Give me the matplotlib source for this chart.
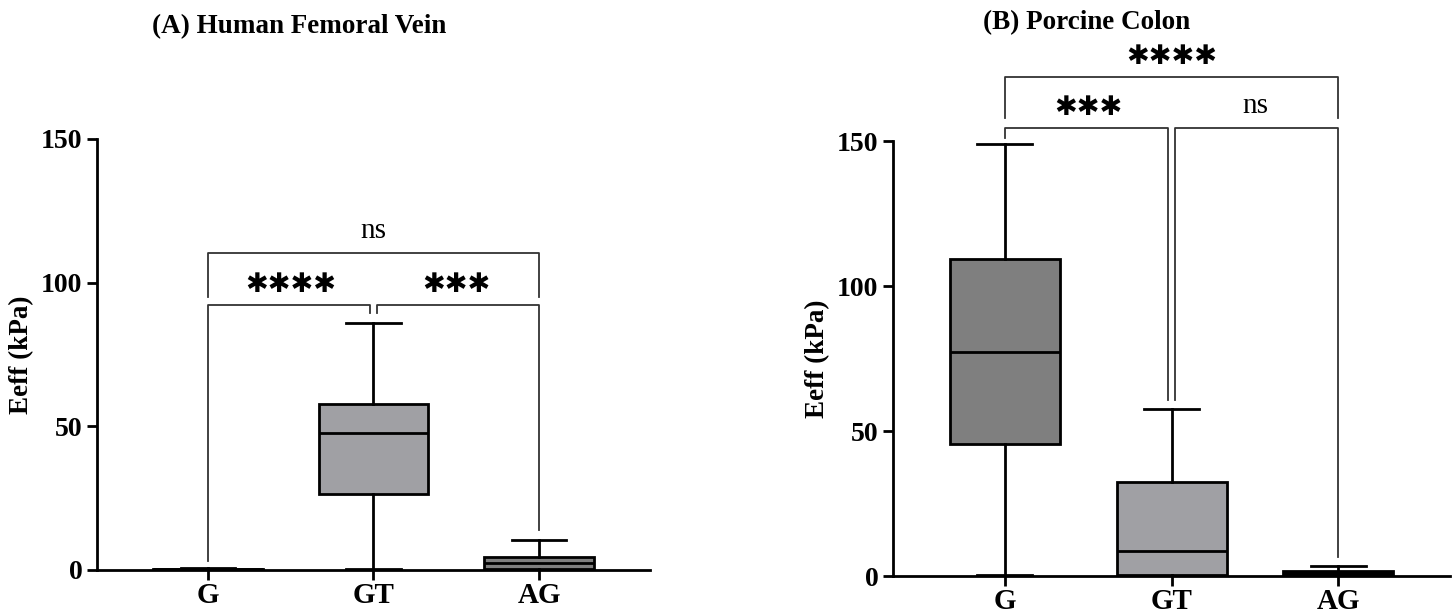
import matplotlib
matplotlib.use("Agg")
import matplotlib.pyplot as plt

groups = ["G", "GT", "AG"]

# box stats (kPa): whislo, q1, med, q3, whishi
vein_lo = [0.0, 0.3, 0.0]
vein_q1 = [0.1, 26.5, 0.4]
vein_med = [0.3, 47.7, 2.5]
vein_q3 = [0.5, 57.8, 4.6]
vein_hi = [0.6, 86.0, 10.5]

colon_lo = [0.3, 0.0, 0.0]
colon_q1 = [45.5, 0.5, 0.3]
colon_med = [77.4, 8.5, 1.0]
colon_q3 = [109.3, 32.3, 1.8]
colon_hi = [149.0, 57.5, 3.6]

vein_colors = ["#9d9da1", "#a0a0a4", "#7f7f7f"]
colon_colors = ["#7f7f7f", "#a0a0a4", "#101010"]

# significance brackets: (i, j, height, left drop, right drop, label)
vein_sig = [(0, 1, 92.2, 3.0, 89.5, "****"),
            (1, 2, 92.2, 89.5, 14.0, "***"),
            (0, 2, 110.3, 95.0, 95.0, "ns")]
colon_sig = [(0, 1, 154.5, 151.0, 60.7, "***"),
             (1, 2, 154.5, 60.7, 6.5, "ns"),
             (0, 2, 172.0, 158.0, 158.0, "****")]

serif = "Liberation Serif"


def make_stats(lo, q1, med, q3, hi):
    return [dict(whislo=lo[k], q1=q1[k], med=med[k], q3=q3[k], whishi=hi[k], fliers=[])
            for k in range(len(lo))]


def draw_panel(ax, stats, colors, sig):
    bp = ax.bxp(stats, positions=range(len(groups)), widths=0.66, patch_artist=True,
                showfliers=False,
                boxprops=dict(linewidth=2, edgecolor="black"),
                medianprops=dict(color="black", linewidth=2),
                whiskerprops=dict(linewidth=2, color="black"),
                capprops=dict(linewidth=2, color="black"), capwidths=0.33)
    for patch, c in zip(bp["boxes"], colors):
        patch.set_facecolor(c)
    ax.set_xlim(-0.67, 2.67)
    ax.set_ylim(0, 150)
    ax.set_yticks([0, 50, 100, 150])
    ax.set_xticks(range(len(groups)))
    ax.set_xticklabels(groups)
    for s in ["top", "right"]:
        ax.spines[s].set_visible(False)
    ax.spines["left"].set_linewidth(2)
    ax.spines["bottom"].set_linewidth(2)
    ax.tick_params(width=2, length=7, direction="out")
    ax.tick_params(axis="x", pad=1.5)
    for lab in ax.get_yticklabels():
        lab.set_fontfamily(serif)
        lab.set_fontweight("bold")
        lab.set_fontsize(20)
    for lab in ax.get_xticklabels():
        lab.set_fontfamily(serif)
        lab.set_fontweight("bold")
        lab.set_fontsize(21)
    ax.set_ylabel("Eeff (kPa)", fontfamily=serif, fontweight="bold", fontsize=19.5, labelpad=5)

    for i, j, h, d1, d2, label in sig:
        gap = 0.02 if (j - i) == 1 else 0.0
        xa = i + (gap if i == 1 else 0)
        xb = j - (gap if j == 1 else 0)
        ax.plot([xa, xa, xb, xb], [d1, h, h, d2], color="#333333", linewidth=1.3,
                clip_on=False)
        if "*" in label:
            ax.text((i + j) / 2, h + 2.5, "\u2731" * len(label), ha="center", va="bottom",
                    fontsize=19.5, fontfamily="DejaVu Sans", clip_on=False)
        else:
            ax.text((i + j) / 2, h + 3, label, ha="center", va="bottom",
                    fontsize=21, fontfamily=serif, clip_on=False)


fig = plt.figure(figsize=(14.55, 6.15), dpi=100)
ax1 = fig.add_axes([0.0667, 0.0732, 0.380, 0.701])
ax2 = fig.add_axes([0.6137, 0.0634, 0.383, 0.707])

draw_panel(ax1, make_stats(vein_lo, vein_q1, vein_med, vein_q3, vein_hi), vein_colors, vein_sig)
draw_panel(ax2, make_stats(colon_lo, colon_q1, colon_med, colon_q3, colon_hi), colon_colors, colon_sig)

fig.text(299 / 1455, 1 - 27 / 615, "(A) Human Femoral Vein", ha="center", va="center",
         fontfamily=serif, fontweight="bold", fontsize=19.5)
fig.text(1087 / 1455, 1 - 23 / 615, "(B) Porcine Colon", ha="center", va="center",
         fontfamily=serif, fontweight="bold", fontsize=19.5)

fig.savefig("out.png", dpi=100)
